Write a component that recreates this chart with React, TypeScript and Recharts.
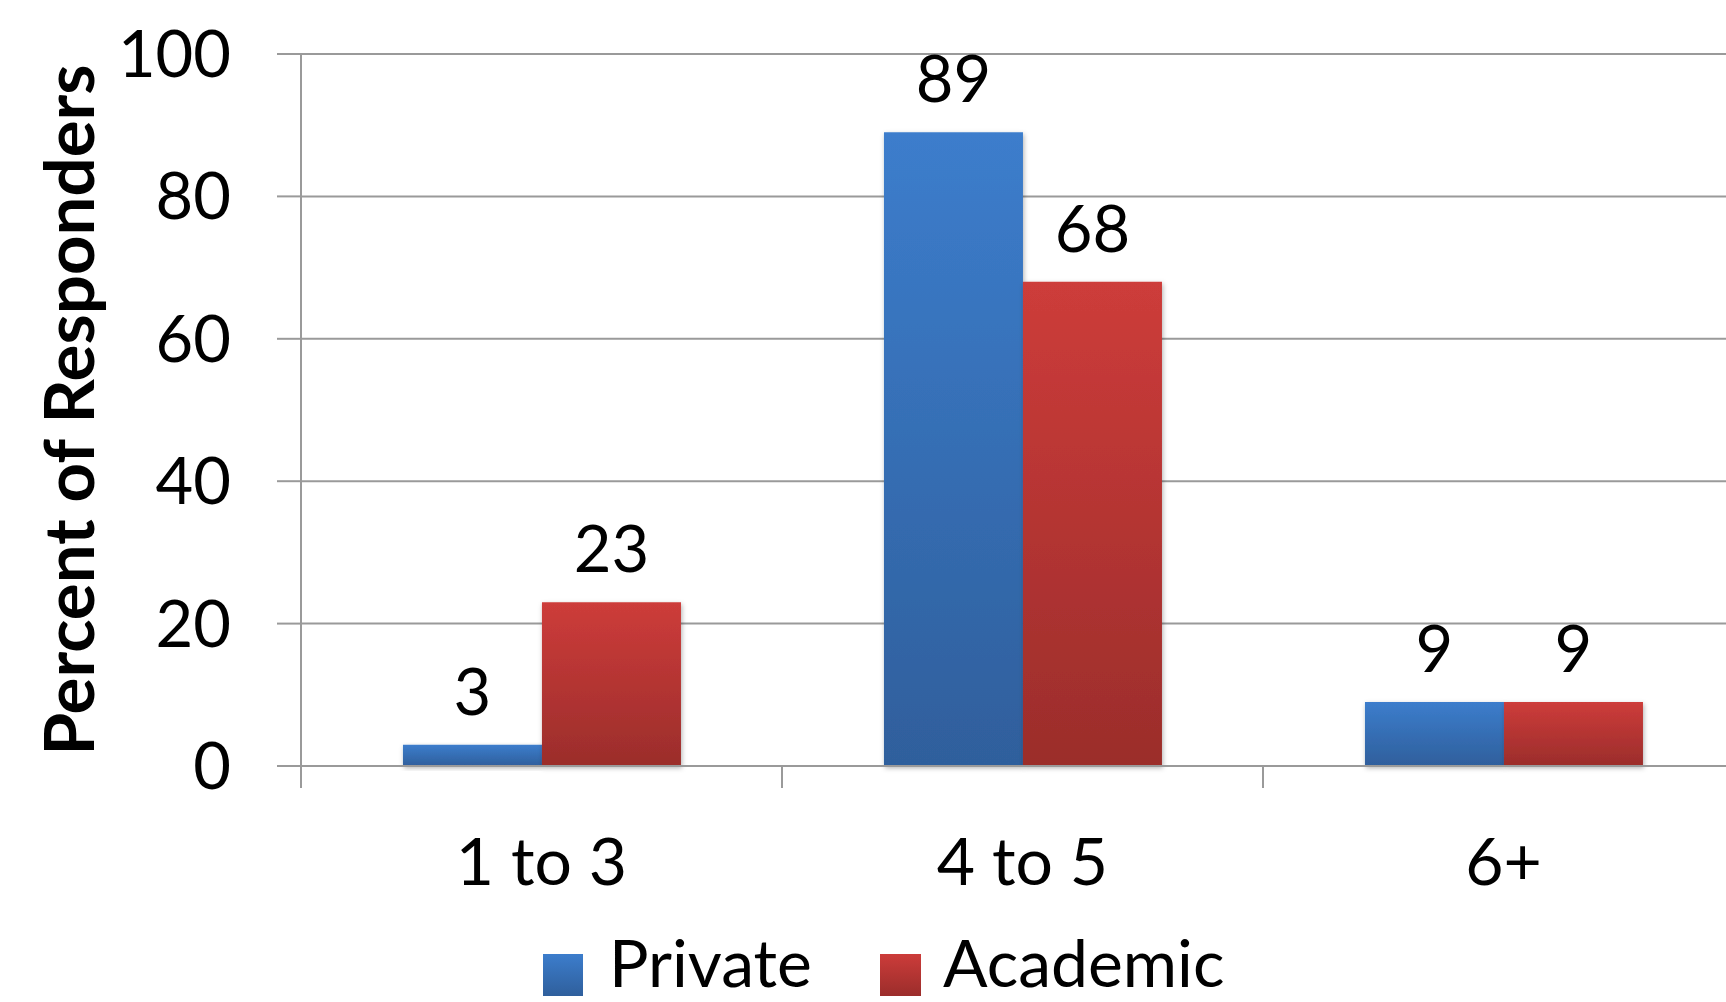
import React from "react";
import {
  BarChart,
  Bar,
  XAxis,
  YAxis,
  CartesianGrid,
  Legend,
  LabelList,
} from "recharts";

const categories = ["1 to 3", "4 to 5", "6+"];
const privateValues = [3, 89, 9];
const academicValues = [23, 68, 9];
const yTicks = [0, 20, 40, 60, 80, 100];

const data = categories.map((name, i) => ({
  name,
  Private: privateValues[i],
  Academic: academicValues[i],
}));

const FONT = "Lato, Carlito, Calibri, sans-serif";
const GRID = "#9a9a9a";

const CategoryTick = (props: any) => {
  const { x, y, payload, width, visibleTicksCount } = props;
  const bw = width / visibleTicksCount;
  return (
    <g>
      <line x1={x - bw / 2} x2={x - bw / 2} y1={y} y2={y + 22} stroke={GRID} strokeWidth={2} />
      <text
        x={x}
        y={y + 119}
        textAnchor="middle"
        fontSize={66}
        fontFamily={FONT}
        fill="#000"
      >
        {payload.value}
      </text>
    </g>
  );
};

const AxisTitle = (props: any) => {
  const { viewBox } = props;
  const cx = viewBox.x + 67;
  const cy = viewBox.y + viewBox.height / 2;
  return (
    <text
      x={cx}
      y={cy}
      transform={`rotate(-90, ${cx}, ${cy})`}
      textAnchor="middle"
      dominantBaseline="central"
      fontSize={69}
      fontWeight="bold"
      fontFamily={FONT}
      fill="#000"
    >
      Percent of Responders
    </text>
  );
};

const LegendContent = () => (
  <div
    style={{
      height: 96,
      boxSizing: "border-box",
      paddingTop: 16,
      display: "flex",
      alignItems: "center",
      paddingLeft: 543,
      fontFamily: FONT,
      fontSize: 66,
      lineHeight: 1,
      color: "#000",
    }}
  >
    <span style={{ display: "inline-block", width: 40, height: 42, background: "linear-gradient(#3c7dcc, #2f5f9c)", marginTop: 26 }} />
    <span style={{ marginLeft: 26, marginRight: 68 }}>Private</span>
    <span style={{ display: "inline-block", width: 41, height: 42, background: "linear-gradient(#cc3c3a, #9b2d2b)", marginTop: 26 }} />
    <span style={{ marginLeft: 22 }}>Academic</span>
  </div>
);

export default function App() {
  return (
    <div
      style={{
        position: "absolute",
        left: 0,
        top: 0,
        width: 1726,
        height: 1002,
        overflow: "hidden",
        background: "#fff",
      }}
    >
      <BarChart
        width={1760}
        height={1002}
        data={data}
        margin={{ top: 54, right: 16, bottom: 0, left: 0 }}
        barCategoryGap="21.2%"
        barGap={0}
      >
        <defs>
          <linearGradient id="gradBlue" x1="0" y1="0" x2="0" y2="1">
            <stop offset="0%" stopColor="#3c7dcc" />
            <stop offset="100%" stopColor="#2f5f9c" />
          </linearGradient>
          <linearGradient id="gradRed" x1="0" y1="0" x2="0" y2="1">
            <stop offset="0%" stopColor="#cd3c3a" />
            <stop offset="100%" stopColor="#9b2d2b" />
          </linearGradient>
          <filter id="shadow" x="-10%" y="-10%" width="130%" height="130%">
            <feDropShadow dx="1" dy="2" stdDeviation="2.5" floodColor="#000" floodOpacity="0.3" />
          </filter>
        </defs>
        <CartesianGrid vertical={false} stroke={GRID} strokeWidth={2} />
        <XAxis
          dataKey="name"
          height={140}
          axisLine={{ stroke: GRID, strokeWidth: 2 }}
          tickLine={false}
          tickSize={0}
          tickMargin={0}
          tick={<CategoryTick />}
          interval={0}
        />
        <YAxis
          width={301}
          domain={[0, 100]}
          ticks={yTicks}
          interval={0}
          axisLine={{ stroke: GRID, strokeWidth: 2 }}
          tickLine={{ stroke: GRID, strokeWidth: 2 }}
          tickSize={24}
          tickMargin={46}
          tick={{ fontSize: 65, fontFamily: FONT, fill: "#000" }}
          label={<AxisTitle />}
        />
        <Legend verticalAlign="bottom" height={96} wrapperStyle={{ left: 0, width: 1760 }} content={<LegendContent />} />
        <Bar dataKey="Private" fill="url(#gradBlue)" filter="url(#shadow)" isAnimationActive={false}>
          <LabelList dataKey="Private" position="top" offset={30} fontSize={65} fontFamily={FONT} fill="#000" />
        </Bar>
        <Bar dataKey="Academic" fill="url(#gradRed)" filter="url(#shadow)" isAnimationActive={false}>
          <LabelList dataKey="Academic" position="top" offset={30} fontSize={65} fontFamily={FONT} fill="#000" />
        </Bar>
      </BarChart>
    </div>
  );
}
